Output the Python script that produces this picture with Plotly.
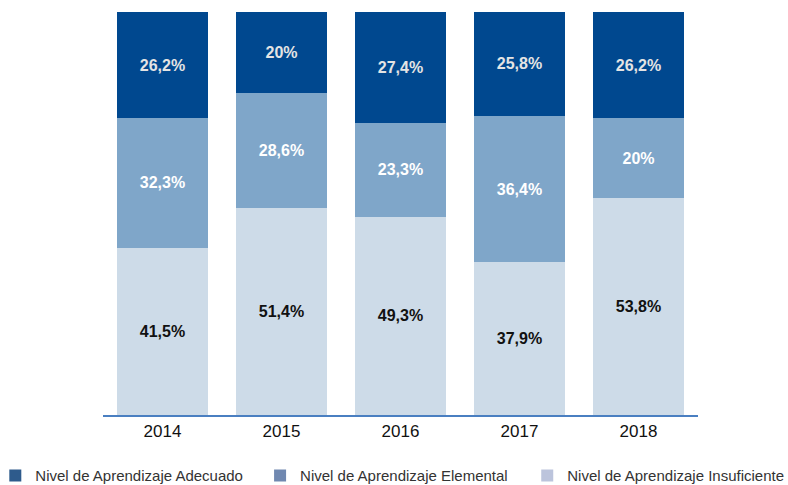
import plotly.graph_objects as go

# Datos: porcentaje de estudiantes por nivel de aprendizaje
anios = ["2014", "2015", "2016", "2017", "2018"]
insuficiente = [41.5, 51.4, 49.3, 37.9, 53.8]
elemental = [32.3, 28.6, 23.3, 36.4, 20.0]
adecuado = [26.2, 20.0, 27.4, 25.8, 26.2]


def etiqueta(v):
    # formato con coma decimal, sin ",0"
    return (f"{v:.0f}%" if v == int(v) else f"{v:.1f}%").replace(".", ",")


fig = go.Figure()

# (nombre, valores, color barra, color texto, color leyenda, leyenda)
series = [
    ("Nivel de Aprendizaje Insuficiente", insuficiente, "#cddbe8", "#111111", "#bcc4dc", "legend3"),
    ("Nivel de Aprendizaje Elemental", elemental, "#7fa6c9", "#ffffff", "#7088b0", "legend2"),
    ("Nivel de Aprendizaje Adecuado", adecuado, "#00488f", "#e4e4e4", "#2e5b8c", "legend"),
]

for nombre, valores, color, color_txt, _, _ in series:
    fig.add_trace(go.Bar(
        x=anios, y=valores, name=nombre, showlegend=False,
        marker_color=color, marker_line_width=0,
        text=[etiqueta(v) for v in valores],
        textposition="inside", insidetextanchor="middle",
        textangle=0,
        textfont=dict(family="Liberation Sans, Arial", size=16,
                      color=color_txt, weight="bold"),
    ))

# leyenda: una por serie para poder repartirlas a lo ancho de la figura
for nombre, _, _, _, color_ley, ley in series:
    fig.add_trace(go.Bar(x=[None], y=[None], name=nombre, legend=ley,
                         marker_color=color_ley, marker_line_width=0))

estilo_leyenda = dict(
    orientation="h", xanchor="left", y=-0.151, yanchor="middle",
    font=dict(family="Liberation Sans, Arial", size=15, color="#333333"),
    itemwidth=30,
)

fig.update_layout(
    barmode="stack",
    bargap=0.24,
    width=788, height=485,
    margin=dict(l=103, r=90, t=12, b=70, autoexpand=False),
    plot_bgcolor="white", paper_bgcolor="white",
    showlegend=True,
    legend=dict(x=-0.181, **estilo_leyenda),
    legend2=dict(x=0.264, **estilo_leyenda),
    legend3=dict(x=0.713, **estilo_leyenda),
    xaxis=dict(
        showline=True, linecolor="#4a7fc1", linewidth=1.5,
        ticks="", tickfont=dict(family="Liberation Sans, Arial", size=17, color="#111111"),
        fixedrange=True,
    ),
    yaxis=dict(
        range=[0, 100.1], visible=False, showgrid=False, fixedrange=True,
    ),
    uniformtext=dict(minsize=10, mode="show"),
)

# quitar el margen por defecto del <body> para que la figura ocupe la ventana
fig.write_html("out.html", config={"displayModeBar": False},
               post_script="document.body.style.margin='0';")
